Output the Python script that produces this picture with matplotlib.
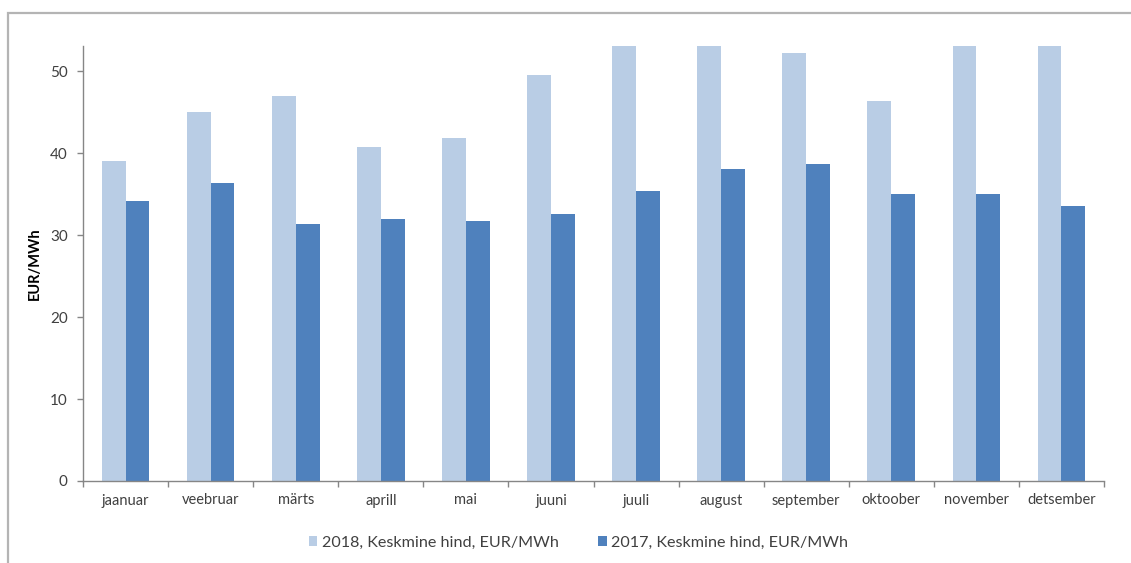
import numpy as np
import matplotlib.pyplot as plt
from matplotlib.patches import Rectangle, Patch

plt.rcParams['font.family'] = ['Lato', 'DejaVu Sans']

months = ["jaanuar", "veebruar", "märts", "aprill", "mai", "juuni",
          "juuli", "august", "september", "oktoober", "november", "detsember"]
price_2018 = [39.0, 45.0, 47.0, 40.8, 41.9, 49.5, 53.9, 56.1, 52.2, 46.4, 53.4, 53.4]
price_2017 = [34.1, 36.3, 31.4, 32.0, 31.7, 32.6, 35.4, 38.0, 38.7, 35.0, 35.0, 33.5]
labels = ["2018, Keskmine hind, EUR/MWh", "2017, Keskmine hind, EUR/MWh"]

light = "#B9CDE5"
dark = "#4F81BD"
text_col = "#404040"
axis_col = "#868686"

W, H = 1131, 563
fig = plt.figure(figsize=(W / 100, H / 100), dpi=100)

# outer chart frame (partly cut off on the right and bottom)
fig.patches.append(Rectangle((8 / W, -0.1), 1.2, 1 - 13 / H + 0.1,
                             transform=fig.transFigure, fill=False,
                             edgecolor="#B4B4B4", linewidth=1.6))

ax = fig.add_axes([83 / W, 1 - 481 / H, (1104 - 83) / W, (481 - 45.7) / H])

x = np.arange(len(months))
w = 0.28
ax.bar(x - w / 2, price_2018, width=w, color=light, label=labels[0])
ax.bar(x + w / 2, price_2017, width=w, color=dark, label=labels[1])

ax.set_xlim(-0.5, len(months) - 0.5)
ax.set_ylim(0, 53.1)
ax.set_yticks([0, 10, 20, 30, 40, 50])
# tick marks sit between the months, labels in the middle
ax.set_xticks(np.arange(-0.5, len(months)), minor=False)
ax.set_xticklabels([])
ax.set_xticks(x, minor=True)
ax.set_xticklabels(months, minor=True)

ax.tick_params(axis="x", which="major", length=4, width=1, color=axis_col, direction="out")
ax.tick_params(axis="x", which="minor", length=0, pad=9, labelsize=10.5, labelcolor=text_col)
ax.tick_params(axis="y", length=4, width=1, color=axis_col, pad=7,
               labelsize=11, labelcolor=text_col)

for side in ["top", "right"]:
    ax.spines[side].set_visible(False)
for side in ["left", "bottom"]:
    ax.spines[side].set_color(axis_col)
    ax.spines[side].set_linewidth(1)

ax.set_ylabel("EUR/MWh", fontsize=10.5, fontweight="bold", color="black", labelpad=6)

handles = [Patch(facecolor=light), Patch(facecolor=dark)]
fig.legend(handles, labels, loc="center", bbox_to_anchor=(578.5 / W, 1 - 543 / H),
           ncol=2, frameon=False, fontsize=11.6, labelcolor=text_col,
           handlelength=0.55, handleheight=0.55, handletextpad=0.3, columnspacing=2.4)

fig.savefig("out.png", dpi=100)
